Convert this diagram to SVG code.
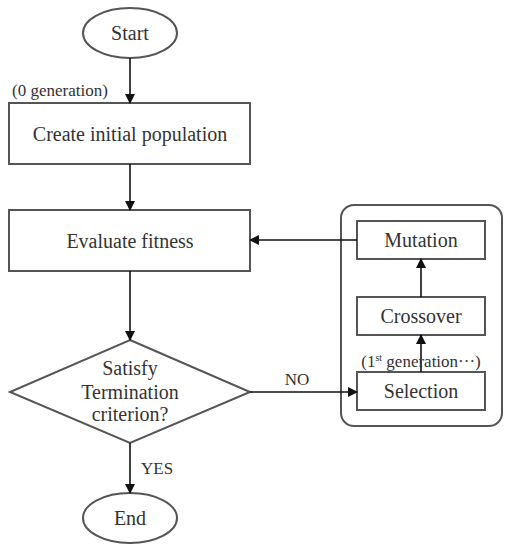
<svg xmlns="http://www.w3.org/2000/svg" width="510" height="550" viewBox="0 0 510 550">
<defs>
<marker id="ah" markerWidth="10" markerHeight="10" refX="9" refY="5" orient="auto" markerUnits="userSpaceOnUse">
<path d="M0,0 L10,5 L0,10 Z" fill="#111"/>
</marker>
<style>
.s{fill:#fff;stroke:#555;stroke-width:2}
.t{font-family:'Times New Roman','Liberation Serif','Noto Serif','DejaVu Serif',serif;font-size:20px;fill:#333;text-anchor:middle}
.sm{font-family:'Times New Roman','Liberation Serif','Noto Serif','DejaVu Serif',serif;font-size:17px;fill:#333}
.c{stroke:#111;stroke-width:1.6;fill:none;marker-end:url(#ah)}
</style>
</defs>
<rect width="510" height="550" fill="#fff"/>
<g id="ga-group"><rect x="341" y="205" width="161" height="221" rx="13" class="s"/></g>
<g id="start"><ellipse cx="130" cy="33" rx="47" ry="25" class="s"/><text x="130" y="40" class="t">Start</text></g>
<g id="create"><rect x="9" y="103" width="241" height="61" class="s"/><text x="130" y="141" class="t">Create initial population</text></g>
<g id="evaluate"><rect x="9" y="210" width="241" height="61" class="s"/><text x="130" y="248" class="t">Evaluate fitness</text></g>
<g id="decision"><polygon points="130,340 250,392 130,443 10,392" class="s"/><text x="130" y="375" class="t">Satisfy</text><text x="130" y="399" class="t">Termination</text><text x="130" y="421" class="t">criterion?</text></g>
<g id="end"><ellipse cx="130" cy="518" rx="47" ry="25" class="s"/><text x="130" y="525" class="t">End</text></g>
<g id="mutation"><rect x="357" y="221" width="128" height="38" class="s"/><text x="421" y="247" class="t">Mutation</text></g>
<g id="crossover"><rect x="357" y="297" width="128" height="38" class="s"/><text x="421" y="323" class="t">Crossover</text></g>
<g id="selection"><rect x="357" y="372" width="128" height="38" class="s"/><text x="421" y="398" class="t">Selection</text></g>
<g id="connectors">
<line x1="130" y1="58" x2="130" y2="103" class="c"/>
<line x1="130" y1="164" x2="130" y2="210" class="c"/>
<line x1="130" y1="271" x2="130" y2="340" class="c"/>
<line x1="130" y1="443" x2="130" y2="493" class="c"/>
<line x1="250" y1="392" x2="357" y2="392" class="c"/>
<line x1="421" y1="372" x2="421" y2="335" class="c"/>
<line x1="421" y1="297" x2="421" y2="259" class="c"/>
<line x1="357" y1="240" x2="250" y2="240" class="c"/>
</g>
<g id="labels">
<text x="12" y="96" class="sm">(0 generation)</text>
<text x="141" y="474" class="sm">YES</text>
<text x="297" y="385" class="sm" text-anchor="middle">NO</text>
<text x="421" y="367" class="sm" text-anchor="middle">(1<tspan font-size="10" dy="-6">st</tspan><tspan dy="6"> generation···)</tspan></text>
</g>
</svg>
